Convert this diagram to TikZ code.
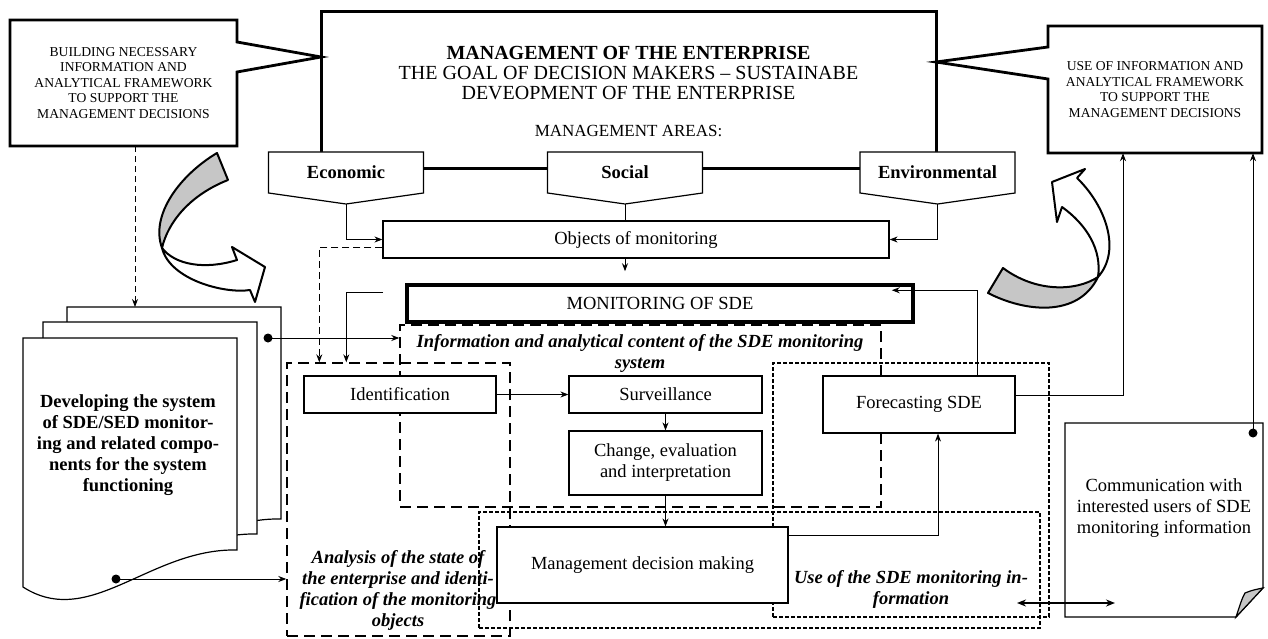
\documentclass[tikz,border=0pt]{standalone}
\usepackage{fontspec}
\setmainfont{Liberation Serif}
\usetikzlibrary{arrows.meta,calc}
\newcommand\fsA{\fontsize{18.5}{21}\selectfont}
\newcommand\fsT{\fontsize{20}{20}\selectfont}
\newcommand\fsAr{\fontsize{17}{20}\selectfont}
\newcommand\fsC{\fontsize{13.6}{15.5}\selectfont}
\newcommand\mytab[3]{%
  \draw[line width=1.2pt, fill=white] (#2-77.5,152) -- (#2+77.5,152) -- (#2+77.5,193) -- (#2,204) -- (#2-77.5,193) -- cycle;
  \node[font=\fsA\bfseries, inner sep=0pt] (#1) at (#2,172.5) {#3};
  \coordinate (#1P) at (#2,204);
}
\newcommand\mypage[2]{%
  \draw[line width=1.2pt, fill=white] (23+#1,338-#2) -- (237+#1,338-#2) -- (237+#1,550-#2)
    .. controls (150+#1,548-#2) and (90+#1,630-#2) .. (23+#1,587-#2) -- cycle;
}
\begin{document}
\begin{tikzpicture}[x=1pt,y=-1pt,
  box/.style={draw, line width=1.2pt, fill=white, inner sep=0pt, align=center, font=\fsA},
  zone/.style={draw, inner sep=0pt},
  longdash/.style={line width=1.4pt, dash pattern=on 11pt off 6pt},
  shortdash/.style={line width=1.2pt, dash pattern=on 4pt off 2pt},
  arr/.style={-{Stealth[length=8pt,width=6pt]}, line width=0.9pt},
  lbl/.style={font=\fsA\bfseries\itshape, align=center, inner sep=0pt},
  callout/.style={line width=2.8pt, fill=white, line join=miter},
  curv/.style={line width=2pt, line join=round}
]
\useasboundingbox (0,0) rectangle (1268,639);

% ---------- zones (dashed frames) ----------
\node[zone, longdash, minimum width=223pt, minimum height=273pt] (anal) at (398.5,499.5) {};
\node[zone, longdash, minimum width=481pt, minimum height=182pt] (info) at (640.5,416) {};
\node[zone, shortdash, minimum width=276pt, minimum height=254pt] (usefc) at (911,490) {};
\node[zone, shortdash, minimum width=561pt, minimum height=116pt] (usemd) at (759.5,570) {};

% ---------- top: management box ----------
\node[draw, line width=3pt, inner sep=0pt, minimum width=615pt, minimum height=157pt] (mainbox) at (628.5,90.5) {};
\node[font=\fsT, align=center, inner sep=0pt] (title) at (628.5,73)
  {\textbf{MANAGEMENT OF THE ENTERPRISE}\\THE GOAL OF DECISION MAKERS -- SUSTAINABE\\DEVEOPMENT OF THE ENTERPRISE};
\node[font=\fsAr, inner sep=0pt] (areas) at (628.5,131) {MANAGEMENT AREAS:};

\mytab{eco}{346}{Economic}
\mytab{soc}{625}{Social}
\mytab{env}{937.5}{Environmental}

% ---------- callouts ----------
\draw[callout] (10,20) -- (237,20) -- (237,42) -- (321,57) -- (237,72) -- (237,146) -- (10,146) -- cycle;
\node[font=\fsC, align=center, inner sep=0pt, minimum width=227pt, minimum height=126pt] (callL) at (123.5,83)
  {BUILDING NECESSARY\\INFORMATION AND\\ANALYTICAL FRAMEWORK\\TO SUPPORT THE\\MANAGEMENT DECISIONS};
\draw[callout] (1048,26) -- (1262,26) -- (1262,153) -- (1048,153) -- (1048,79) -- (936,62) -- (1048,47) -- cycle;
\node[font=\fsC, align=center, inner sep=0pt, minimum width=214pt, minimum height=127pt] (callR) at (1155,89.5)
  {USE OF INFORMATION AND\\ANALYTICAL FRAMEWORK\\TO SUPPORT THE\\MANAGEMENT DECISIONS};

% ---------- curved arrows ----------
\draw[curv, fill=gray!45] (217,153) .. controls (180,175) and (150,215) .. (162,248)
   .. controls (168,222) and (190,195) .. (228,180) -- cycle;
\draw[curv, fill=white] (162,248) .. controls (175,265) and (205,270) .. (237,260) -- (232,247) -- (265,267) -- (255,302) -- (250,290)
   .. controls (225,294) and (170,280) .. (162,248) -- cycle;
\draw[curv, fill=gray!45] (988,293) .. controls (1025,312) and (1078,318) .. (1098,277)
   .. controls (1075,292) and (1035,292) .. (1003,268) -- cycle;
\draw[curv, fill=white] (1098,277) .. controls (1122,250) and (1105,205) .. (1077,178) -- (1085,169) -- (1052,182) -- (1057,222) -- (1062,207)
   .. controls (1087,225) and (1102,250) .. (1098,277) -- cycle;

% ---------- objects and monitoring ----------
\node[box, minimum width=506pt, minimum height=37pt] (obj) at (636,239.5) {Objects of monitoring};
\node[box, line width=3.5pt, minimum width=506pt, minimum height=37pt] (mon) at (660,303.5) {MONITORING OF SDE};

% ---------- inner boxes ----------
\node[box, minimum width=192pt, minimum height=37pt] (ident) at (400,394.5) {Identification};
\node[box, minimum width=193pt, minimum height=37pt] (surv) at (665.5,394.5) {Surveillance};
\node[box, minimum width=193pt, minimum height=64pt] (chg) at (665.5,463) {Change, evaluation\\and interpretation};
\node[box, minimum width=192pt, minimum height=57pt] (fc) at (919,404.5) {Forecasting SDE};
\node[box, minimum width=291pt, minimum height=76pt] (mdm) at (642.5,565) {Management decision making};

% ---------- zone labels ----------
\node[lbl] (infolbl) at (640,353) {Information and analytical content of the SDE monitoring\\system};
\node[lbl] (anallbl) at (398,590) {Analysis of the state of\\the enterprise and identi-\\fication of the monitoring\\objects};
\node[lbl] (uselbl) at (911,589) {Use of the SDE monitoring in-\\formation};

% ---------- left document stack ----------
\mypage{44}{31}
\mypage{20}{16}
\mypage{0}{0}
\node[font=\fsA\bfseries, align=center, inner sep=0pt] (docL) at (128,445)
  {Developing the system\\of SDE/SED monitor-\\ing and related compo-\\nents for the system\\functioning};
\coordinate (pageTop) at (135,307);

% ---------- right document ----------
\draw[line width=1.2pt, fill=white] (1065,423) -- (1263,423) -- (1263,588) -- (1236,617) -- (1065,617) -- cycle;
\draw[line width=1.2pt, fill=gray!45] (1236,617) .. controls (1240,605) and (1242,598) .. (1245,593) .. controls (1252,590) and (1258,589) .. (1263,588) -- cycle;
\node[font=\fsA, align=center, inner sep=0pt] (comm) at (1164,508)
  {Communication with\\interested users of SDE\\monitoring information};

% ---------- connectors ----------
\draw[arr] (ecoP) |- (obj.west);
\draw[arr] (envP) |- (obj.east);
\draw[line width=0.9pt] (socP) -- (socP |- obj.north);
\draw[arr, shorten >=12pt] (socP |- obj.south) -- (socP |- mon.north);

\draw[arr, dash pattern=on 6pt off 4pt] ($(callL.south)+(11.5,0)$) -- (pageTop);
\draw[arr, dash pattern=on 7pt off 4pt] ($(obj.west)+(0,7.5)$) -| ($(anal.north west)+(33,0)$);
\coordinate (monIn) at (383,292);
\draw[arr] (monIn) -| ($(anal.north west)+(60,0)$);

\coordinate (b1) at (268,338);
\fill (b1) circle (4.5pt);
\draw[arr] (b1) -- (b1 -| info.west);
\coordinate (b2) at (116,579);
\fill (b2) circle (4.5pt);
\draw[arr] (b2) -- (b2 -| anal.west);

\draw[arr] (ident.east) -- (surv.west);
\draw[arr] (surv.south) -- (chg.north);
\draw[arr] (chg.south) -- (chg.south |- mdm.north);
\draw[arr] ($(mdm.north east)+(0,9)$) -| ($(fc.south)+(19,0)$);
\draw[arr] ($(fc.east)+(0,-9.5)$) -| ($(callR.south)+(-32,0)$);
\draw[arr] ($(fc.north)+(58,0)$) |- ($(mon.north east)+(-23,7)$);

\coordinate (b3) at (1253,433);
\fill (b3) circle (4.5pt);
\draw[arr] (b3) -- (b3 |- callR.south);

\coordinate (da1) at (1017,603);
\coordinate (da2) at (1115,603);
\draw[{Stealth[length=9pt,width=7pt]}-{Stealth[length=9pt,width=7pt]}, line width=1.8pt] (da1) -- (da2);
\end{tikzpicture}
\end{document}
